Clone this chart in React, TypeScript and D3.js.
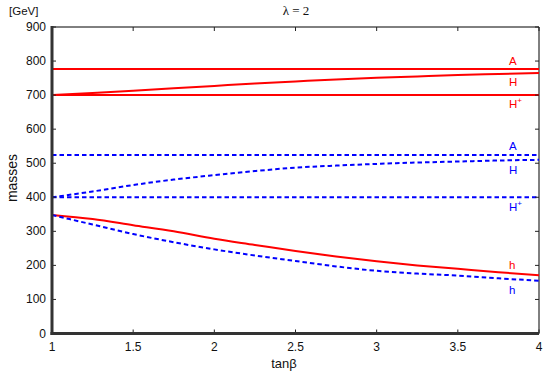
import React from 'react';
import * as d3 from 'd3';

// tanβ sample points
const tanBeta = [1, 1.25, 1.5, 1.75, 2, 2.25, 2.5, 2.75, 3, 3.25, 3.5, 3.75, 4];

// solid (red) set
const redA = [777, 777, 777, 777, 777, 777, 777, 777, 777, 777, 777, 777, 777];
const redH = [700, 706, 713, 720, 727, 734, 740, 746, 751, 755, 759, 762, 765];
const redHp = [700, 700, 700, 700, 700, 700, 700, 700, 700, 700, 700, 700, 700];
const redh = [348, 336, 318, 300, 278, 260, 242, 226, 212, 200, 190, 180, 171];

// dashed (blue) set
const blueA = [524, 524, 524, 524, 524, 524, 524, 524, 524, 524, 524, 524, 524];
const blueH = [400, 417, 436, 452, 465, 477, 487, 493, 498, 502, 505, 508, 510];
const blueHp = [400, 400, 400, 400, 400, 400, 400, 400, 400, 400, 400, 400, 400];
const blueh = [348, 320, 292, 268, 247, 229, 213, 197, 184, 176, 170, 162, 155];

const xTicks = [1, 1.5, 2, 2.5, 3, 3.5, 4];
const yTicks = [0, 100, 200, 300, 400, 500, 600, 700, 800, 900];

// label names and the mass level their text sits at
const redLabels = [
  { t: 'A', v: 800 },
  { t: 'H', v: 738 },
  { t: 'H', v: 674, sup: true },
  { t: 'h', v: 200 },
];
const blueLabels = [
  { t: 'A', v: 551 },
  { t: 'H', v: 481 },
  { t: 'H', v: 371, sup: true },
  { t: 'h', v: 129 },
];

const W = 545, H = 376;
const m = { left: 52, right: 6, top: 27, bottom: 42.5 };

export default function App() {
  const x = d3.scaleLinear().domain([1, 4]).range([m.left, W - m.right]);
  const y = d3.scaleLinear().domain([0, 900]).range([H - m.bottom, m.top]);
  const line = d3.line<number>()
    .x((_, i) => x(tanBeta[i]))
    .y(d => y(d))
    .curve(d3.curveMonotoneX);

  const red = [redA, redH, redHp, redh];
  const blue = [blueA, blueH, blueHp, blueh];
  const font = 'Liberation Sans, Arial, sans-serif';
  const lx = 509;

  const x0 = x.range()[0], x1 = x.range()[1];
  const y0 = y.range()[0], y1 = y.range()[1];

  const label = (l: { t: string; v: number; sup?: boolean }, color: string, k: string) => (
    <text key={k} x={lx} y={y(l.v) + 4} fontFamily={font} fontSize={11.5} fill={color}>
      {l.t}{l.sup ? <tspan dy={-5} fontSize={8}>+</tspan> : null}
    </text>
  );

  return (
    <svg width={W} height={H} style={{ position: 'absolute', left: 0, top: 0 }}>
      <rect width={W} height={H} fill="#fff" />
      {/* frame */}
      <line x1={x0} x2={x1} y1={y1} y2={y1} stroke="#000" strokeWidth={1} />
      <line x1={x1} x2={x1} y1={y1} y2={y0} stroke="#000" strokeWidth={1} />

      {/* curves */}
      {red.map((s, i) => (
        <path key={'r' + i} d={line(s) || ''} fill="none" stroke="#ff0000" strokeWidth={2} />
      ))}
      {blue.map((s, i) => (
        <path key={'b' + i} d={line(s) || ''} fill="none" stroke="#0000ff" strokeWidth={2}
          strokeDasharray="4.5,3" />
      ))}

      {/* ticks */}
      {xTicks.map(t => (
        <g key={'xt' + t}>
          <line x1={x(t)} x2={x(t)} y1={y0} y2={y0 - 4} stroke="#222" />
          <line x1={x(t)} x2={x(t)} y1={y1} y2={y1 + 4} stroke="#222" />
          <text x={x(t)} y={y0 + 17} textAnchor="middle" fontFamily={font} fontSize={12} fill="#111">{t}</text>
        </g>
      ))}
      {yTicks.map(t => (
        <g key={'yt' + t}>
          <line x1={x0} x2={x0 + 4} y1={y(t)} y2={y(t)} stroke="#222" />
          <line x1={x1} x2={x1 - 4} y1={y(t)} y2={y(t)} stroke="#222" />
          <text x={x0 - 6} y={y(t) + 4} textAnchor="end" fontFamily={font} fontSize={12} fill="#111">{t}</text>
        </g>
      ))}

      {/* left and bottom axes */}
      <line x1={x0} x2={x0} y1={y1 - 1} y2={y0 + 1.5} stroke="#333" strokeWidth={3} />
      <line x1={x0 - 1.5} x2={x1} y1={y0} y2={y0} stroke="#333" strokeWidth={3} />

      {/* curve labels */}
      {redLabels.map((l, i) => label(l, '#ff0000', 'rl' + i))}
      {blueLabels.map((l, i) => label(l, '#0000ff', 'bl' + i))}

      {/* titles */}
      <text x={9} y={15} fontFamily={font} fontSize={11.5} fill="#111">[GeV]</text>
      <text x={296} y={15} textAnchor="middle" fontFamily="Liberation Serif, Times New Roman, serif" fontSize={13} fill="#111">λ = 2</text>
      <text x={284} y={368} textAnchor="middle" fontFamily={font} fontSize={13} fill="#111">tanβ</text>
      <text transform="translate(17,178) rotate(-90)" textAnchor="middle" fontFamily={font} fontSize={14} fill="#111">masses</text>
    </svg>
  );
}
